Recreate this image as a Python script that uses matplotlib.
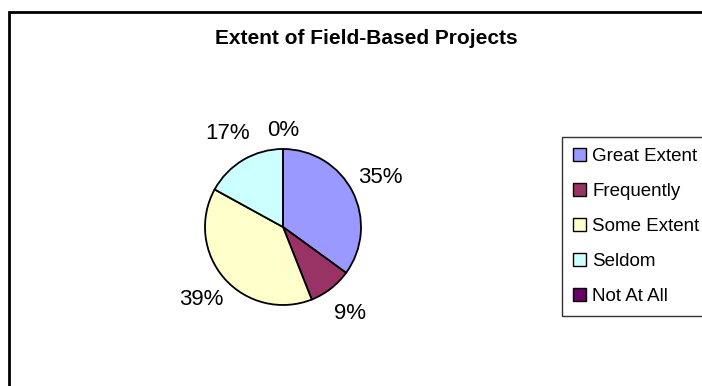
import numpy as np
import matplotlib.pyplot as plt
from matplotlib.patches import Rectangle

plt.rcParams['font.family'] = ['Liberation Sans', 'DejaVu Sans']

# Survey responses (percent of respondents)
categories = ["Great Extent", "Frequently", "Some Extent", "Seldom", "Not At All"]
shares = [35, 9, 39, 17, 0]
colors = ["#9999FF", "#993366", "#FFFFCC", "#CCFFFF", "#660066"]

W, H = 702, 386
fig = plt.figure(figsize=(W / 100, H / 100), dpi=100)

# outer chart-area frame (runs off the right and bottom edges)
fig.patches.append(Rectangle((9 / W, -0.05), 1.0, 1 - 12 / H + 0.05,
                             transform=fig.transFigure, fill=False,
                             edgecolor="black", linewidth=2.0))

fig.text(366 / W, 1 - 38 / H, "Extent of Field-Based Projects",
         ha="center", va="center", fontsize=15, fontweight="bold")

# pie plot area
cx, cy, r = 283, 386 - 227, 78
ax = fig.add_axes([(cx - r) / W, (cy - r) / H, 2 * r / W, 2 * r / H])
wedges, texts, autotexts = ax.pie(
    shares, colors=colors, startangle=90, counterclock=False,
    autopct=lambda p: f"{p:.0f}%", pctdistance=1.4,
    wedgeprops=dict(edgecolor="black", linewidth=1.3),
    textprops=dict(fontsize=16))

# the empty slice's label sits a little closer to the rim
x0, y0 = autotexts[-1].get_position()
autotexts[-1].set_position((x0 * 1.24 / 1.4, y0 * 1.24 / 1.4))

ax.set_xlim(-1, 1)
ax.set_ylim(-1, 1)
ax.set_aspect("equal")
ax.axis("off")

leg = fig.legend(wedges, categories, loc="upper left",
                 bbox_to_anchor=(562 / W, 1 - 137 / H),
                 fontsize=13.5, frameon=True, fancybox=False,
                 handlelength=0.7, handleheight=0.7, handletextpad=0.3,
                 labelspacing=0.95, borderpad=0.6, borderaxespad=0)
leg.get_frame().set_edgecolor("black")
leg.get_frame().set_linewidth(1.0)
for h in leg.legend_handles:
    h.set_edgecolor("black")
    h.set_linewidth(1.0)

fig.savefig("out.png", dpi=100)
